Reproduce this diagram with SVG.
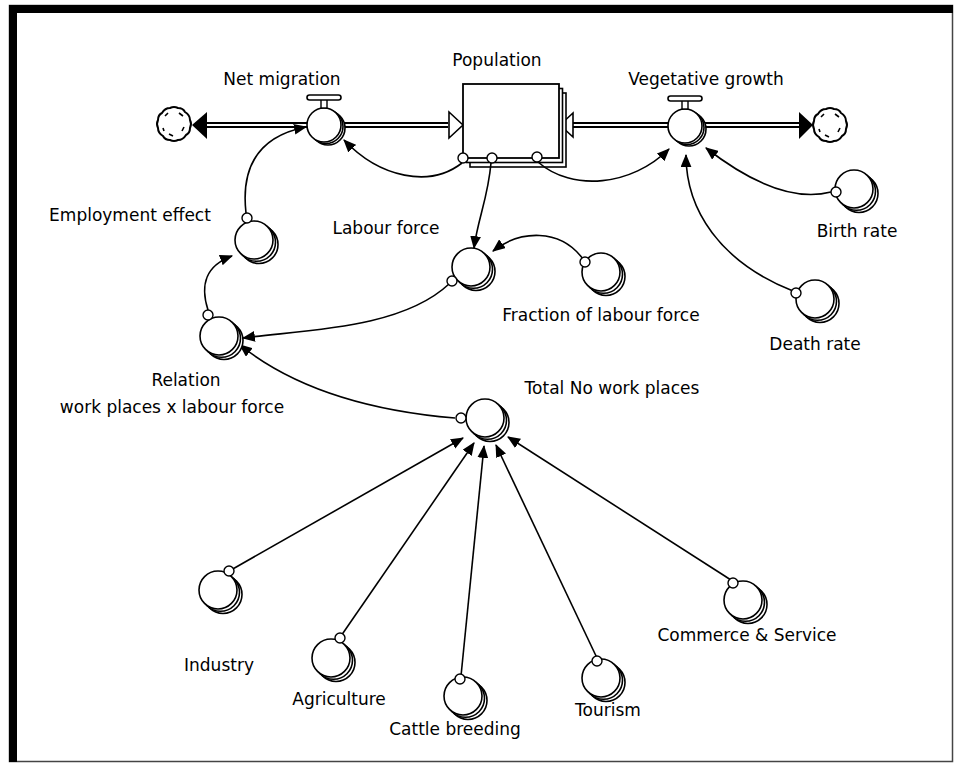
<svg xmlns="http://www.w3.org/2000/svg" width="954" height="765" viewBox="0 0 954 765">
  <style>
    .lbl { font-family: "DejaVu Sans", "Liberation Sans", sans-serif; font-size: 17px; fill: #000; text-anchor: middle; }
    .ring { fill: #fff; stroke: #000; stroke-width: 1.6; }
    .tap { fill: #fff; stroke: #000; stroke-width: 1.4; }
    .link { fill: none; stroke: #000; stroke-width: 1.6; }
    .pipe-out { stroke: #000; stroke-width: 6; fill: none; }
    .pipe-in { stroke: #fff; stroke-width: 2; fill: none; }
  </style>
  <defs>
    <marker id="arr" viewBox="0 0 12 10" refX="11" refY="5" markerWidth="13" markerHeight="11" markerUnits="userSpaceOnUse" orient="auto">
      <path d="M0,0 L12,5 L0,10 Z" fill="#000"/>
    </marker>
    <!-- converter: circle with stacked shadow rings at lower right -->
    <g id="conv">
      <circle class="ring" cx="5" cy="4.5" r="19"/>
      <circle class="ring" cx="2.5" cy="2.3" r="19"/>
      <circle class="ring" cx="0" cy="0" r="19"/>
    </g>
    <!-- valve body -->
    <g id="valve">
      <circle class="ring" cx="4" cy="3" r="17"/>
      <circle class="ring" cx="2" cy="1.5" r="17"/>
      <circle class="ring" cx="0" cy="0" r="17"/>
      <rect x="-3" y="-26" width="6" height="9" fill="#fff" stroke="#000" stroke-width="1.4"/>
      <rect x="-17" y="-30" width="34" height="5" rx="2.5" fill="#fff" stroke="#000" stroke-width="1.6"/>
    </g>
    <!-- cloud (source / sink) -->
    <g id="cloud">
      <path d="M-4,-16 Q0,-18 4,-16 Q9,-16 11,-12 Q16,-9 16,-4 Q18,0 16,4 Q16,9 12,11 Q9,16 4,16 Q0,18 -4,16 Q-9,16 -11,12 Q-16,9 -16,4 Q-18,0 -16,-4 Q-16,-9 -12,-11 Q-9,-16 -4,-16 Z" fill="#fff" stroke="#000" stroke-width="2"/>
      <path d="M-9,-8 L-6,-11 M5,-11 L9,-8 M10,3 L8,7 M-5,10 L-1,12 M-11,4 L-10,7" stroke="#000" stroke-width="1.6" fill="none"/>
    </g>
  </defs>

  <rect x="0" y="0" width="954" height="765" fill="#fff"/>

  <!-- frame -->
  <g id="frame">
    <rect x="9.5" y="5.5" width="943" height="756" fill="none" stroke="#444" stroke-width="1.5"/>
    <rect x="9" y="5" width="944" height="8" fill="#000"/>
    <rect x="9" y="5" width="8" height="757" fill="#000"/>
  </g>

  <!-- flows (pipes) -->
  <g id="pipes">
    <path class="pipe-out" d="M205,125 H307 M340,125 H448"/>
    <path class="pipe-in" d="M205,125 H307 M340,125 H448"/>
    <path class="pipe-out" d="M572,125 H668 M702,125 H800"/>
    <path class="pipe-in" d="M572,125 H668 M702,125 H800"/>
    <path d="M192,125 L207,112 L207,139 Z" fill="#000"/>
    <path d="M813,125 L799,112 L799,139 Z" fill="#000"/>
    <path d="M463,125 L449,112 L449,138 Z" fill="#fff" stroke="#000" stroke-width="1.6"/>
    <path d="M560,125 L573,113 L573,137 Z" fill="#fff" stroke="#000" stroke-width="1.6"/>
  </g>

  <g id="source-left"><use href="#cloud" x="174" y="124"/></g>
  <g id="sink-right"><use href="#cloud" x="830" y="125"/></g>

  <!-- stock -->
  <g id="population">
    <rect x="470" y="93" width="96" height="74" fill="#fff" stroke="#000" stroke-width="1.6"/>
    <rect x="466.5" y="88.5" width="96" height="74" fill="#fff" stroke="#000" stroke-width="1.6"/>
    <rect x="463" y="84" width="96" height="74" fill="#fff" stroke="#000" stroke-width="1.8"/>
    <circle class="tap" cx="463" cy="158" r="5"/>
    <circle class="tap" cx="492" cy="158" r="5"/>
    <circle class="tap" cx="537" cy="157" r="5"/>
    <text class="lbl" x="497" y="66">Population</text>
  </g>

  <g id="net-migration">
    <use href="#valve" x="324" y="125"/>
    <text class="lbl" x="282" y="85">Net migration</text>
  </g>

  <g id="vegetative-growth">
    <use href="#valve" x="685" y="126"/>
    <text class="lbl" x="706" y="85">Vegetative growth</text>
  </g>

  <!-- connectors -->
  <g id="connectors">
    <path class="link" marker-end="url(#arr)" d="M462,163 C430,188 380,178 344,140"/>
    <path class="link" marker-end="url(#arr)" d="M538,162 C572,192 632,186 669,149"/>
    <path class="link" marker-end="url(#arr)" d="M491,163 C488,198 478,218 474,248"/>
    <path class="link" marker-end="url(#arr)" d="M246,213 C240,160 265,135 306,127"/>
    <path class="link" marker-end="url(#arr)" d="M208,310 C200,285 205,266 232,256"/>
    <path class="link" marker-end="url(#arr)" d="M449,284 C400,330 300,330 243,338"/>
    <path class="link" marker-end="url(#arr)" d="M455,418 C360,410 290,385 240,345"/>
    <path class="link" marker-end="url(#arr)" d="M583,259 C560,228 520,230 493,251"/>
    <path class="link" marker-end="url(#arr)" d="M831,192 C800,200 760,190 706,148"/>
    <path class="link" marker-end="url(#arr)" d="M793,291 C720,262 686,210 686,155"/>
    <path class="link" marker-end="url(#arr)" d="M231,570 L463,438"/>
    <path class="link" marker-end="url(#arr)" d="M341,636 L474,443"/>
    <path class="link" marker-end="url(#arr)" d="M461,676 L484,446"/>
    <path class="link" marker-end="url(#arr)" d="M597,658 L496,445"/>
    <path class="link" marker-end="url(#arr)" d="M731,580 L508,437"/>
  </g>

  <!-- converters -->
  <g id="employment-effect">
    <use href="#conv" x="254" y="240"/>
    <circle class="tap" cx="247" cy="218" r="5"/>
    <text class="lbl" x="130" y="221">Employment effect</text>
  </g>
  <g id="relation">
    <use href="#conv" x="219" y="336"/>
    <circle class="tap" cx="208" cy="315" r="5"/>
    <text class="lbl" x="186" y="386">Relation</text>
    <text class="lbl" x="172" y="413">work places x labour force</text>
  </g>
  <g id="labour-force">
    <use href="#conv" x="471" y="267"/>
    <circle class="tap" cx="452" cy="281" r="5"/>
    <text class="lbl" x="386" y="234">Labour force</text>
  </g>
  <g id="fraction-labour-force">
    <use href="#conv" x="601" y="272"/>
    <circle class="tap" cx="585" cy="262" r="5"/>
    <text class="lbl" x="601" y="321">Fraction of labour force</text>
  </g>
  <g id="birth-rate">
    <use href="#conv" x="854" y="189"/>
    <circle class="tap" cx="836" cy="192" r="5"/>
    <text class="lbl" x="857" y="237">Birth rate</text>
  </g>
  <g id="death-rate">
    <use href="#conv" x="815" y="299"/>
    <circle class="tap" cx="796" cy="293" r="5"/>
    <text class="lbl" x="815" y="350">Death rate</text>
  </g>
  <g id="total-work-places">
    <use href="#conv" x="485" y="418"/>
    <circle class="tap" cx="461" cy="418" r="5"/>
    <text class="lbl" x="612" y="394">Total No work places</text>
  </g>
  <g id="industry">
    <use href="#conv" x="218" y="590"/>
    <circle class="tap" cx="229" cy="571" r="5"/>
    <text class="lbl" x="219" y="671">Industry</text>
  </g>
  <g id="agriculture">
    <use href="#conv" x="331" y="658"/>
    <circle class="tap" cx="340" cy="638" r="5"/>
    <text class="lbl" x="339" y="705">Agriculture</text>
  </g>
  <g id="cattle-breeding">
    <use href="#conv" x="463" y="696"/>
    <circle class="tap" cx="460" cy="679" r="5"/>
    <text class="lbl" x="455" y="735">Cattle breeding</text>
  </g>
  <g id="tourism">
    <use href="#conv" x="601" y="678"/>
    <circle class="tap" cx="597" cy="661" r="5"/>
    <text class="lbl" x="608" y="716">Tourism</text>
  </g>
  <g id="commerce-service">
    <use href="#conv" x="743" y="600"/>
    <circle class="tap" cx="733" cy="583" r="5"/>
    <text class="lbl" x="747" y="641">Commerce &amp; Service</text>
  </g>
</svg>
